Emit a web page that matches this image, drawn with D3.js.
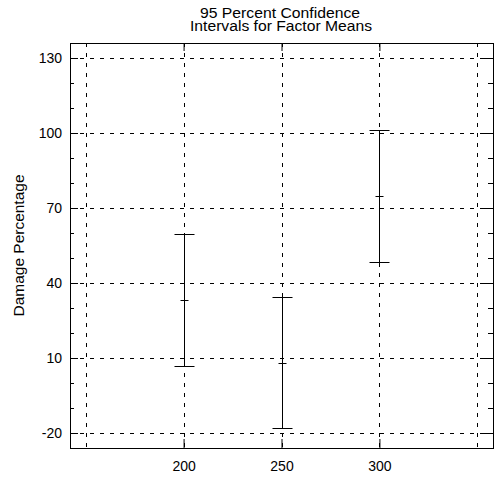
<!DOCTYPE html>
<html>
<head>
<meta charset="utf-8">
<script src="https://cdn.jsdelivr.net/npm/d3@7"></script>
<style>
  body { margin: 0; background: #fff; }
  text { font-family: "Liberation Sans", Arial, sans-serif; fill: #000; }
</style>
</head>
<body>
<svg id="chart" width="496" height="478"></svg>
<script>
// factor levels and the 95% intervals
var factors = [200, 250, 300];
var upper = [59.5, 34.4, 101.1];
var means = [33.2, 8.1, 74.8];
var lower = [6.8, -18, 48.5];

var yTicks = [-20, 10, 40, 70, 100, 130];
var yMinor = [-10, 0, 20, 30, 50, 60, 80, 90, 110, 120];
var xTicks = [200, 250, 300];
var xGrid = [150, 200, 250, 300, 350];

(function intervalChart() {

    var svg = d3.select("#chart"),
        pLeft = 70, pRight = 493, pTop = 43, pBottom = 448;

    var x = d3.scaleLinear().domain([142, 358]).range([pLeft, pRight]);
    var y = d3.scaleLinear().domain([-26, 136]).range([pBottom, pTop]);

    // snap to the pixel grid so marks sit on the grid lines
    function px(v) { return Math.round(x(v)) + 0.5; }
    function py(v) { return Math.round(y(v)) + 0.5; }

    var dash = "4,6";
    var plain = function (d) { return String(d); };

    // grid
    svg.append("g").selectAll("line")
        .data(yTicks)
        .enter().append("line")
        .attr("x1", pLeft).attr("x2", pRight)
        .attr("y1", py).attr("y2", py)
        .attr("stroke", "#000")
        .attr("stroke-dasharray", dash);

    svg.append("g").selectAll("line")
        .data(xGrid)
        .enter().append("line")
        .attr("y1", pTop).attr("y2", pBottom)
        .attr("x1", px).attr("x2", px)
        .attr("stroke", "#000")
        .attr("stroke-dasharray", dash);

    // axes, ticks pointing inward
    function clean(g) {
        g.select(".domain").remove();
        g.attr("font-family", null).attr("font-size", null);
        g.selectAll("text").style("font-size", "14px");
    }

    svg.append("g")
        .attr("transform", "translate(" + pLeft + ",0)")
        .call(d3.axisLeft(y).tickValues(yTicks).tickSize(-8).tickPadding(8).tickFormat(plain))
        .call(clean);
    svg.append("g")
        .attr("transform", "translate(" + pLeft + ",0)")
        .call(d3.axisLeft(y).tickValues(yMinor).tickSize(-4).tickFormat(""))
        .call(clean);
    svg.append("g")
        .attr("transform", "translate(" + pRight + ",0)")
        .call(d3.axisRight(y).tickValues(yTicks).tickSize(-9).tickFormat(""))
        .call(clean);
    svg.append("g")
        .attr("transform", "translate(" + pRight + ",0)")
        .call(d3.axisRight(y).tickValues(yMinor).tickSize(-5).tickFormat(""))
        .call(clean);
    svg.append("g")
        .attr("transform", "translate(0," + pBottom + ")")
        .call(d3.axisBottom(x).tickValues(xTicks).tickSize(-9).tickPadding(13).tickFormat(plain))
        .call(clean);
    svg.append("g")
        .attr("transform", "translate(0," + pTop + ")")
        .call(d3.axisTop(x).tickValues(xTicks).tickSize(-8).tickFormat(""))
        .call(clean);

    // frame
    svg.append("rect")
        .attr("x", pLeft + 0.5).attr("y", pTop + 0.5)
        .attr("width", pRight - pLeft).attr("height", pBottom - pTop)
        .attr("fill", "none")
        .attr("stroke", "#000");

    // confidence intervals
    var bars = svg.append("g").selectAll("g")
        .data(factors)
        .enter().append("g")
        .attr("stroke", "#000");

    bars.append("line")
        .attr("x1", px).attr("x2", px)
        .attr("y1", function (d, i) { return py(upper[i]); })
        .attr("y2", function (d, i) { return py(lower[i]); });

    [[upper, 10], [lower, 10], [means, 4]].forEach(function (p) {
        bars.append("line")
            .attr("x1", function (d) { return px(d) - p[1]; })
            .attr("x2", function (d) { return px(d) + p[1]; })
            .attr("y1", function (d, i) { return py(p[0][i]); })
            .attr("y2", function (d, i) { return py(p[0][i]); });
    });

    // titles
    svg.append("text")
        .attr("x", 280).attr("y", 18)
        .attr("text-anchor", "middle")
        .style("font-size", "14px")
        .attr("textLength", 160).attr("lengthAdjust", "spacingAndGlyphs")
        .text("95 Percent Confidence");
    svg.append("text")
        .attr("x", 281).attr("y", 31)
        .attr("text-anchor", "middle")
        .style("font-size", "14px")
        .attr("textLength", 182).attr("lengthAdjust", "spacingAndGlyphs")
        .text("Intervals for Factor Means");

    svg.append("text")
        .attr("transform", "translate(24," + (pTop + pBottom) / 2 + ") rotate(-90)")
        .attr("text-anchor", "middle")
        .style("font-size", "14px")
        .attr("textLength", 142).attr("lengthAdjust", "spacingAndGlyphs")
        .text("Damage Percentage");
}());
</script>
</body>
</html>
